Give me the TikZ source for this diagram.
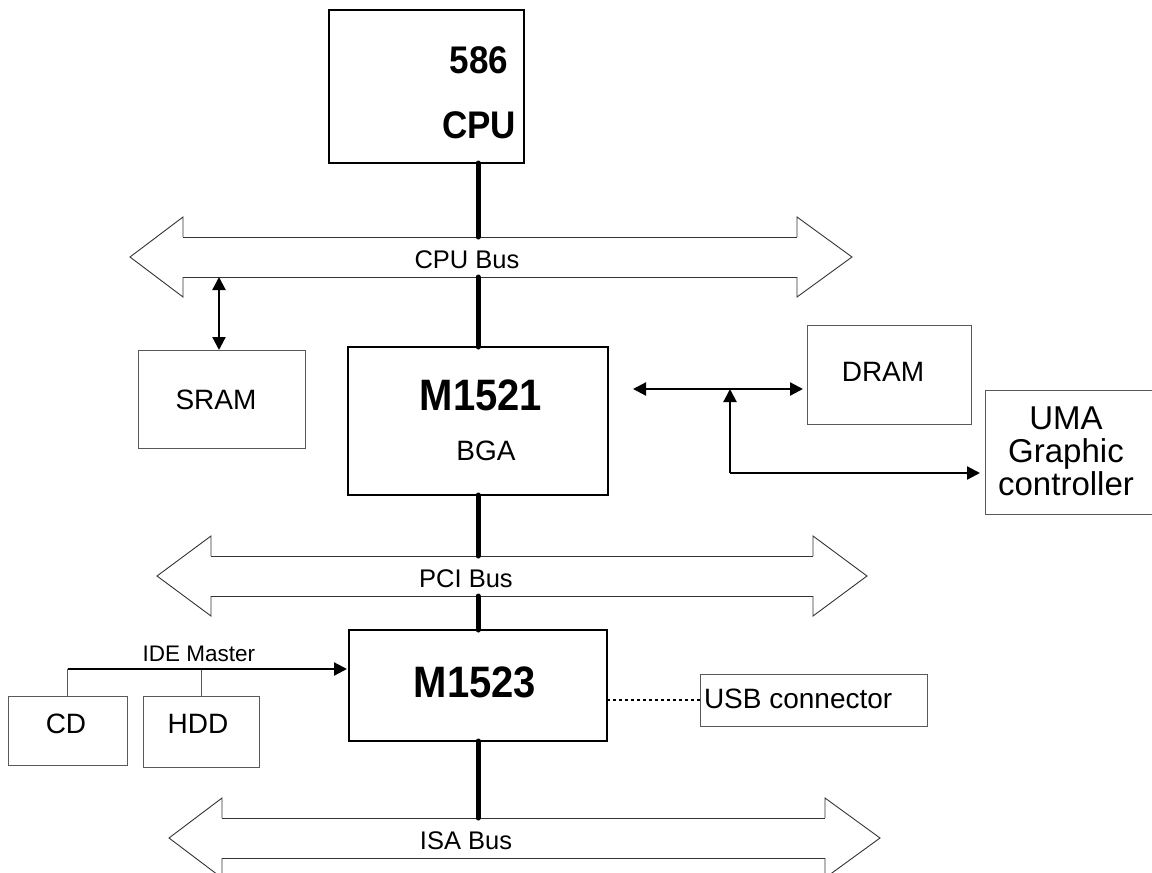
\documentclass[tikz,border=0pt]{standalone}
\usepackage{fontspec}
\setmainfont{Liberation Sans}
\usetikzlibrary{arrows.meta}
\newcommand\drawbus[5]{%
  \draw[busline] (#2,#5-20) -- (#3,#5-20);
  \draw[busline] (#2,#5+20) -- (#3,#5+20);
  \draw[busline] (#2,#5-20) -- (#2,#5-40) -- (#1,#5) -- (#2,#5+40) -- (#2,#5+20);
  \draw[busline] (#3,#5-20) -- (#3,#5-40) -- (#4,#5) -- (#3,#5+40) -- (#3,#5+20);
}
\newcommand\tallbox[1]{\scalebox{1}[1.1]{#1}}
\begin{document}
\begin{tikzpicture}[x=1pt,y=-1pt,
  box/.style={draw=black,line width=2pt,inner sep=0,outer sep=0},
  sbox/.style={draw=black!65,line width=1pt,inner sep=0,outer sep=0},
  txt/.style={inner sep=0,outer sep=0,anchor=base},
  busline/.style={draw=black!80,line width=0.9pt},
  buslink/.style={line width=5pt,line cap=round},
  arr/.style={line width=2.2pt,-{Triangle[length=13pt,width=13pt]}},
  darr/.style={line width=2.2pt,{Triangle[length=13pt,width=13pt]}-{Triangle[length=13pt,width=13pt]}},
  fbig/.style={font=\fontsize{35}{40}\selectfont\bfseries},
  fchip/.style={font=\fontsize{40}{46}\selectfont\bfseries},
  fnorm/.style={font=\fontsize{28}{32}\selectfont},
  fuma/.style={font=\fontsize{33}{36}\selectfont},
  fbus/.style={font=\fontsize{25.5}{30}\selectfont},
  fsmall/.style={font=\fontsize{22.5}{26}\selectfont},
]
\useasboundingbox[fill=white] (0,0) rectangle (1152,873);

% boxes
\node[box,minimum width=195pt,minimum height=153pt] (cpu) at (426.5,86.5) {};
\node[sbox,minimum width=167pt,minimum height=98pt] (sram) at (221.5,399) {};
\node[box,minimum width=260pt,minimum height=148pt] (m1521) at (478,421) {};
\node[sbox,minimum width=164pt,minimum height=99pt] (dram) at (889,374.5) {};
\node[sbox,minimum width=185pt,minimum height=124pt] (uma) at (1077.5,452) {};
\node[box,minimum width=258pt,minimum height=111pt] (m1523) at (478,685.5) {};
\node[sbox,minimum width=227pt,minimum height=52pt] (usb) at (813.5,700) {};
\node[sbox,minimum width=119pt,minimum height=69pt] (cd) at (67.5,730.5) {};
\node[sbox,minimum width=116pt,minimum height=71pt] (hdd) at (201,731.5) {};

% texts
\node[txt,fbig] (cpuT1) at (479,73) {\tallbox{586}};
\node[txt,fbig] (cpuT2) at (479,138) {\tallbox{CPU}};
\node[txt,fnorm] (sramT) at (216,409) {SRAM};
\node[txt,fchip] (m1521T) at (481,410) {\tallbox{M1521}};
\node[txt,fnorm] (bgaT) at (486,460) {BGA};
\node[txt,fnorm] (dramT) at (883,381) {DRAM};
\node[txt,fuma] (umaT1) at (1066,429) {UMA};
\node[txt,fuma] (umaT2) at (1066,462) {Graphic};
\node[txt,fuma] (umaT3) at (1066,495) {controller};
\node[txt,fchip] (m1523T) at (475,697) {\tallbox{M1523}};
\node[txt,fnorm,anchor=base west] (usbT) at (704,708) {USB connector};
\node[txt,fnorm] (cdT) at (66,733) {CD};
\node[txt,fnorm] (hddT) at (198,733) {HDD};
\node[txt,fsmall] (ideT) at (199,661) {IDE Master};
\node[txt,fbus] (cpubusT0) at (467,268) {CPU Bus};
\node[txt,fbus] (pcibusT0) at (466,587) {PCI Bus};
\node[txt,fbus] (isabusT0) at (466,849) {ISA Bus};

% buses
\drawbus{130}{183}{797}{852}{257}
\drawbus{157}{211}{813}{867}{576}
\drawbus{169}{222}{825}{880}{838}

\coordinate (cpubusT) at (478,237);
\coordinate (cpubusB) at (478,277);
\coordinate (pcibusT) at (478,556);
\coordinate (pcibusB) at (478,596);
\coordinate (isabusT) at (478,818);

\draw[buslink] (cpu.south -| cpubusT) -- (cpubusT);
\draw[buslink] (cpubusB) -- (m1521.north);
\draw[buslink] (m1521.south) -- (pcibusT);
\draw[buslink] (pcibusB) -- (m1523.north);
\draw[buslink] (m1523.south) -- (isabusT);

% SRAM
\coordinate (sramBus) at (219,277);
\draw[darr] (sram.north -| sramBus) -- (sramBus);

% DRAM / UMA
\coordinate (jn) at (730,389);
\coordinate (jb) at (730,473);
\draw[darr] ([xshift=25pt]m1521.east |- jn) -- ([xshift=-4pt]dram.west |- jn);
\draw[arr] (jb) -- (jn);
\draw[arr] (jb) -- ([xshift=-5pt]uma.west |- jb);

% IDE
\coordinate (idey) at (0,669);
\draw[black!65,line width=1pt] (cd.north) -- (cd.north |- idey);
\draw[black!65,line width=1pt] (hdd.north) -- (hdd.north |- idey);
\draw[arr] (cd.north |- idey) -- ([xshift=-2pt]m1523.west |- idey);

% USB
\draw[line width=1.2pt,dash pattern=on 3pt off 3pt] (m1523.east |- usb.west) -- (usb.west);
\end{tikzpicture}
\end{document}
